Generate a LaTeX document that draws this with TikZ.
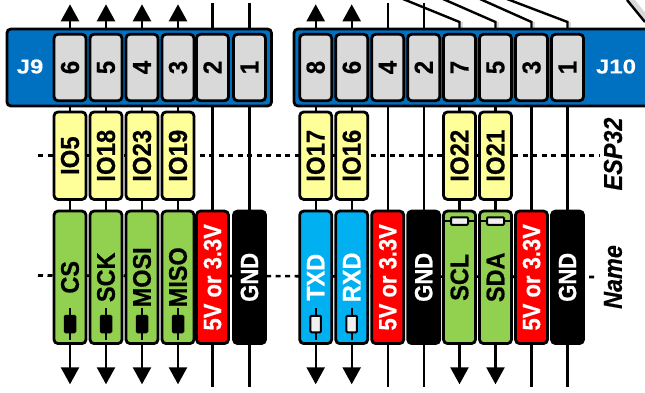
\documentclass[tikz,border=0pt]{standalone}
\usepackage{fontspec}
\setmainfont{Liberation Sans}[BoldFeatures={FakeStretch=0.88,FakeBold=0.5}, BoldItalicFeatures={FakeStretch=0.9,FakeBold=0.4}]
\newfontfamily\hdrfont{Liberation Sans}[BoldFeatures={FakeStretch=1.2,FakeBold=0.3}]
\newfontfamily\iofont{Liberation Sans}[BoldFeatures={FakeStretch=0.92,FakeBold=0.5}]
\usetikzlibrary{arrows.meta, positioning, calc}
\definecolor{hdrblue}{HTML}{0070C0}
\definecolor{pingray}{HTML}{D9D9D9}
\definecolor{ioyellow}{HTML}{FFFF99}
\definecolor{sigblue}{HTML}{00B0F0}
\definecolor{siggreen}{HTML}{92D050}
\definecolor{pwrred}{HTML}{FF0000}
\begin{document}
\begin{tikzpicture}[
    x=1pt, y=-1pt,
    wire/.style={line width=2.4pt, color=black},
    arrow/.style={wire, -{Triangle[length=17pt, width=18pt]}},
    guide/.style={line width=2.6pt, dash pattern=on 5pt off 4.5pt},
    header/.style={draw, line width=2.8pt, rounded corners=4pt, fill=hdrblue, minimum height=77pt, inner sep=0pt},
    hdrlabel/.style={font=\hdrfont\bfseries\fontsize{20}{20}\selectfont, text=white},
    pinbox/.style={draw, line width=2.8pt, rounded corners=4pt, fill=pingray, minimum width=66.5pt, minimum height=32pt, inner sep=0pt, rotate=90, font=\iofont\bfseries\fontsize{26}{26}\selectfont},
    iobox/.style={draw, line width=2.8pt, rounded corners=4pt, fill=ioyellow, minimum width=87.5pt, minimum height=32pt, inner sep=0pt, rotate=90, font=\iofont\bfseries\fontsize{26}{26}\selectfont},
    namebox/.style={draw, line width=2.8pt, rounded corners=4pt, fill=#1, minimum width=132.5pt, minimum height=32pt, inner sep=0pt, rotate=90, font=\iofont\bfseries\fontsize{25.5}{26}\selectfont},
    pwrbox/.style={namebox=#1, text=white, font=\bfseries\fontsize{25}{25}\selectfont},
    sidelabel/.style={font=\bfseries\itshape\fontsize{26}{26}\selectfont, rotate=90},
    resbody/.style={draw, line width=2pt, rounded corners=1pt, fill=#1, minimum width=10.5pt, minimum height=16.5pt, inner sep=0pt},
]

% Page size
\useasboundingbox (0,0) rectangle (645,392);

% Guide lines
\coordinate (espl) at (38,155.7);
\coordinate (espr) at (600,155.7);
\coordinate (namel) at (38,275.5);
\coordinate (namer) at (598,277);
\draw[guide] (espl) -- (espr);
\draw[guide] (namel) -- (namer);

% Wires with arrows at both ends
\foreach \x/\n in {70/a, 106/b, 142/c, 178/d, 315.7/e, 351.7/f} {
  \coordinate (up\n) at (\x,4.3);
  \coordinate (dn\n) at (\x,384.3);
  \draw[arrow] (\x,67) -- (up\n);
  \draw[arrow] (\x,277) -- (dn\n);
  \draw[wire] (\x,67) -- (\x,277);
}

% Straight wires
\foreach \x/\n in {212.5/a, 249.5/b, 387.7/c, 423.7/d} {
  \coordinate (top\n) at (\x,3);
  \coordinate (bot\n) at (\x,387);
  \draw[wire] (top\n) -- (bot\n);
}

% Wires fanning out to the top
\foreach \x/\n/\s in {459.5/g/403, 495.5/h/443, 531.5/i/480, 567.5/j/507} {
  \coordinate (fan\n) at (\s,-1);
  \coordinate (bend\n) at (\x,22);
  \coordinate (stub\n) at (\x+2.5,22);
  \coordinate (foot\n) at (\x+2.5,34);
  \draw[line width=2.4pt, color=pingray] (stub\n) -- (foot\n);
  \draw[wire] (fan\n) -- (bend\n) -- (\x,67);
}
\foreach \x/\n in {459.5/g, 495.5/h} {
  \coordinate (dn\n) at (\x,384.3);
  \draw[arrow] (\x,277) -- (dn\n);
  \draw[wire] (\x,67) -- (\x,277);
}
\foreach \x/\n in {531.5/i, 567.5/j} {
  \coordinate (bot\n) at (\x,387);
  \draw[wire] (\x,67) -- (bot\n);
}

% Corner line
\coordinate (cnra) at (630,-2);
\coordinate (cnrb) at (648,20);
\draw[line width=5pt, color=pingray] (cnra) -- (cnrb);
\draw[wire] ($(cnra)+(-3,2)$) -- ($(cnrb)+(-3,2)$);

% Headers
\node[header, minimum width=264.6pt] (j9) at (139.2,67.5) {};
\node[header, minimum width=360pt] (j10) at (474,67.5) {};
\node[hdrlabel] (j9label) at (30,66.5) {J9};
\node[hdrlabel] (j10label) at (616,66.5) {J10};

% Pins
\foreach \x/\t/\n in {70/6/a, 106/5/b, 142/4/c, 178/3/d, 212.5/2/e, 249.5/1/f, 315.7/8/g, 351.7/6/h, 387.7/4/i, 423.7/2/j, 459.5/7/k, 495.5/5/l, 531.5/3/m, 567.5/1/n}
  \node[pinbox] (pin\n) at (\x,67.5) {\t};

% ESP32 names
\foreach \x/\t in {70/IO5, 106/IO18, 142/IO23, 178/IO19, 315.7/IO17, 351.7/IO16, 459.5/IO22, 495.5/IO21}
  \node[iobox] (\t) at (\x,155.7) {\t};

% Signal names
\foreach \x/\t in {70/CS, 106/SCK, 142/MOSI, 178/MISO, 459.5/SCL, 495.5/SDA}
  \node[namebox=siggreen] (\t) at (\x,277.3) {\t};
\foreach \x/\t in {315.7/TXD, 351.7/RXD}
  \node[namebox=sigblue, text=white] (\t) at (\x,277.3) {\t};
\foreach \x/\n in {212.5/a, 387.7/b, 531.5/c}
  \node[pwrbox=pwrred] (pwr\n) at (\x,277.3) {5V or 3.3V};
\foreach \x/\n in {249.5/a, 423.7/b, 567.5/c}
  \node[pwrbox=black] (gnd\n) at (\x,277.3) {GND};

% Resistors
\foreach \x/\n in {70/a, 106/b, 142/c, 178/d} {
  \node[resbody=black] (res\n) at (\x,324) {};
  \draw[wire] ($(res\n.north)+(0,-7)$) -- (res\n.north);
  \draw[wire] (res\n.south) -- ($(res\n.south)+(0,7)$);
}
\foreach \x/\n in {315.7/e, 351.7/f} {
  \node[resbody=pingray!40] (res\n) at (\x,324) {};
  \draw[wire] ($(res\n.north)+(0,-7)$) -- (res\n.north);
  \draw[wire] (res\n.south) -- ($(res\n.south)+(0,7)$);
}
\foreach \x/\n in {459.5/g, 495.5/h} {
  \node[resbody=pingray!40, minimum width=17pt, minimum height=7.5pt] (res\n) at (\x,221) {};
  \draw[wire] ($(res\n.west)+(-6,0)$) -- (res\n.west);
  \draw[wire] (res\n.east) -- ($(res\n.east)+(6,0)$);
}

% Side labels
\node[sidelabel] (esp32) at (613,154) {ESP32};
\node[sidelabel] (name) at (613,277) {Name};

\end{tikzpicture}
\end{document}
